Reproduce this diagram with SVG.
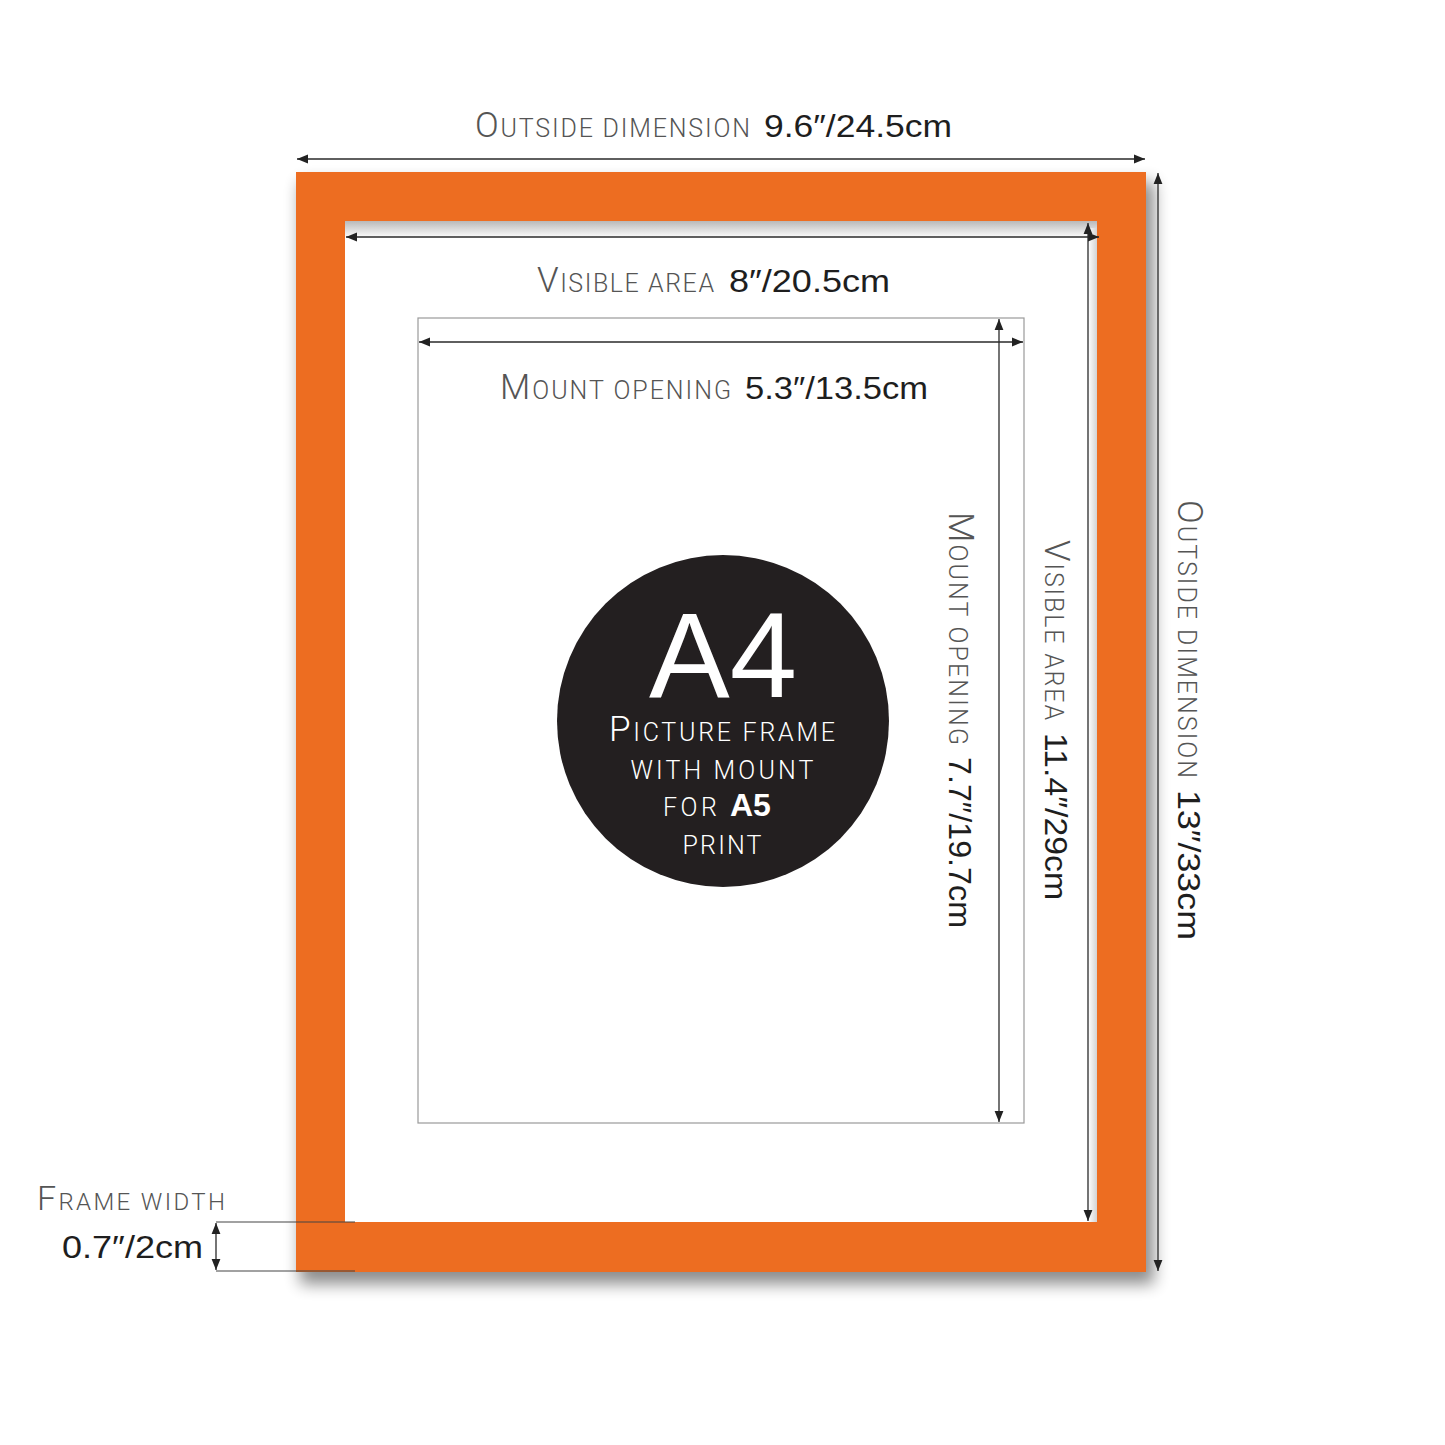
<svg xmlns="http://www.w3.org/2000/svg" width="1445" height="1445" viewBox="0 0 1445 1445">
<style>
.lbl{font-family:Roboto,"Liberation Sans",sans-serif;font-weight:300;fill:#555}
.val{font-family:"Liberation Sans",Arial,sans-serif;fill:#1e1e1e}
.dim{stroke:#2a2a2a;stroke-width:1.3;fill:none}
.wt{font-family:"Liberation Sans",Arial,sans-serif;fill:#fff}
.wl{font-family:Roboto,"Liberation Sans",sans-serif;font-weight:300;fill:#fff}
</style>
<defs>
<marker id="ah" viewBox="0 0 10 10" refX="10" refY="5" markerWidth="11" markerHeight="11" markerUnits="userSpaceOnUse" orient="auto-start-reverse">
<path d="M0,1 L10,5 L0,9 z" fill="#222"/>
</marker>
<filter id="sh" x="-10%" y="-10%" width="130%" height="130%">
<feGaussianBlur stdDeviation="8"/>
</filter>
<linearGradient id="gt" x1="0" y1="0" x2="0" y2="1">
<stop offset="0" stop-color="#b9b9b9"/>
<stop offset="1" stop-color="#ffffff"/>
</linearGradient>
<linearGradient id="gr" x1="0" y1="0" x2="1" y2="0">
<stop offset="0" stop-color="#ffffff"/>
<stop offset="1" stop-color="#d3d3d3"/>
</linearGradient>
</defs>
<rect width="1445" height="1445" fill="#fff"/>

<g id="frame">
<rect x="300" y="182" width="854" height="1102" fill="#000" opacity="0.45" filter="url(#sh)"/>
<path d="M296,172 H1146 V1272 H296 Z M345,221 V1222 H1097 V221 Z" fill="#ED6D21" fill-rule="evenodd"/>
<rect x="345" y="221" width="752" height="1001" fill="#fff"/>
<rect x="345" y="221" width="752" height="17" fill="url(#gt)"/>
<rect x="1088" y="228" width="9" height="994" fill="url(#gr)"/>
</g>

<g id="mount">
<rect x="418" y="318" width="606" height="805" fill="#fff" stroke="#9a9a9a" stroke-width="1.2"/>
</g>

<g id="badge">
<circle cx="723" cy="721" r="166" fill="#231F20"/>
<text class="wt" x="723" y="697" font-size="121" text-anchor="middle">A4</text>
<text class="wl" x="722" y="741" text-anchor="middle" textLength="226" lengthAdjust="spacing"><tspan font-size="35">P</tspan><tspan font-size="25">ICTURE FRAME</tspan></text>
<text class="wl" x="722" y="779" text-anchor="middle" textLength="183" lengthAdjust="spacing" font-size="25">WITH MOUNT</text>
<text class="wl" x="663" y="816" font-size="25" textLength="54" lengthAdjust="spacing">FOR</text>
<text class="wt" x="730" y="816" font-size="32" font-weight="bold">A5</text>
<text class="wl" x="722" y="854" text-anchor="middle" textLength="79" lengthAdjust="spacing" font-size="25">PRINT</text>
</g>

<g id="connectors">
<line class="dim" x1="297" y1="159" x2="1145" y2="159" marker-start="url(#ah)" marker-end="url(#ah)"/>
<line class="dim" x1="1158" y1="173" x2="1158" y2="1271" marker-start="url(#ah)" marker-end="url(#ah)"/>
<line class="dim" x1="346" y1="237" x2="1099" y2="237" marker-start="url(#ah)" marker-end="url(#ah)"/>
<line class="dim" x1="1088" y1="223" x2="1088" y2="1221" marker-start="url(#ah)" marker-end="url(#ah)"/>
<line class="dim" x1="419" y1="342" x2="1023" y2="342" marker-start="url(#ah)" marker-end="url(#ah)"/>
<line class="dim" x1="999" y1="319" x2="999" y2="1122" marker-start="url(#ah)" marker-end="url(#ah)"/>
<line stroke="#444" stroke-width="1.2" x1="216" y1="1222" x2="355" y2="1222"/>
<line stroke="#444" stroke-width="1.2" x1="216" y1="1271" x2="355" y2="1271"/>
<line class="dim" x1="216" y1="1223" x2="216" y2="1270" marker-start="url(#ah)" marker-end="url(#ah)"/>
</g>

<g id="labels">
<text class="lbl" x="475" y="137" textLength="275" lengthAdjust="spacing"><tspan font-size="35">O</tspan><tspan font-size="25">UTSIDE DIMENSION</tspan></text>
<text class="val" x="764" y="137" font-size="32" textLength="188" lengthAdjust="spacingAndGlyphs">9.6″/24.5cm</text>

<text class="lbl" x="537" y="292" textLength="177" lengthAdjust="spacing"><tspan font-size="35">V</tspan><tspan font-size="25">ISIBLE AREA</tspan></text>
<text class="val" x="729" y="292" font-size="32" textLength="161" lengthAdjust="spacingAndGlyphs">8″/20.5cm</text>

<text class="lbl" x="500" y="399" textLength="231" lengthAdjust="spacing"><tspan font-size="35">M</tspan><tspan font-size="25">OUNT OPENING</tspan></text>
<text class="val" x="745" y="399" font-size="32" textLength="183" lengthAdjust="spacingAndGlyphs">5.3″/13.5cm</text>

<g transform="translate(949,512) rotate(90)">
<text class="lbl" x="0" y="0" textLength="233" lengthAdjust="spacing"><tspan font-size="35">M</tspan><tspan font-size="25">OUNT OPENING</tspan></text>
<text class="val" x="245" y="0" font-size="32" textLength="171" lengthAdjust="spacingAndGlyphs">7.7″/19.7cm</text>
</g>
<g transform="translate(1045,540) rotate(90)">
<text class="lbl" x="0" y="0" textLength="180" lengthAdjust="spacing"><tspan font-size="35">V</tspan><tspan font-size="25">ISIBLE AREA</tspan></text>
<text class="val" x="193" y="0" font-size="32" textLength="167" lengthAdjust="spacingAndGlyphs">11.4″/29cm</text>
</g>
<g transform="translate(1178,500) rotate(90)">
<text class="lbl" x="0" y="0" textLength="278" lengthAdjust="spacing"><tspan font-size="35">O</tspan><tspan font-size="25">UTSIDE DIMENSION</tspan></text>
<text class="val" x="290" y="0" font-size="32" textLength="150" lengthAdjust="spacingAndGlyphs">13″/33cm</text>
</g>

<text class="lbl" x="37" y="1210" textLength="188" lengthAdjust="spacing"><tspan font-size="34">F</tspan><tspan font-size="24">RAME WIDTH</tspan></text>
<text class="val" x="62" y="1258" font-size="32" textLength="141" lengthAdjust="spacingAndGlyphs">0.7″/2cm</text>
</g>
</svg>
